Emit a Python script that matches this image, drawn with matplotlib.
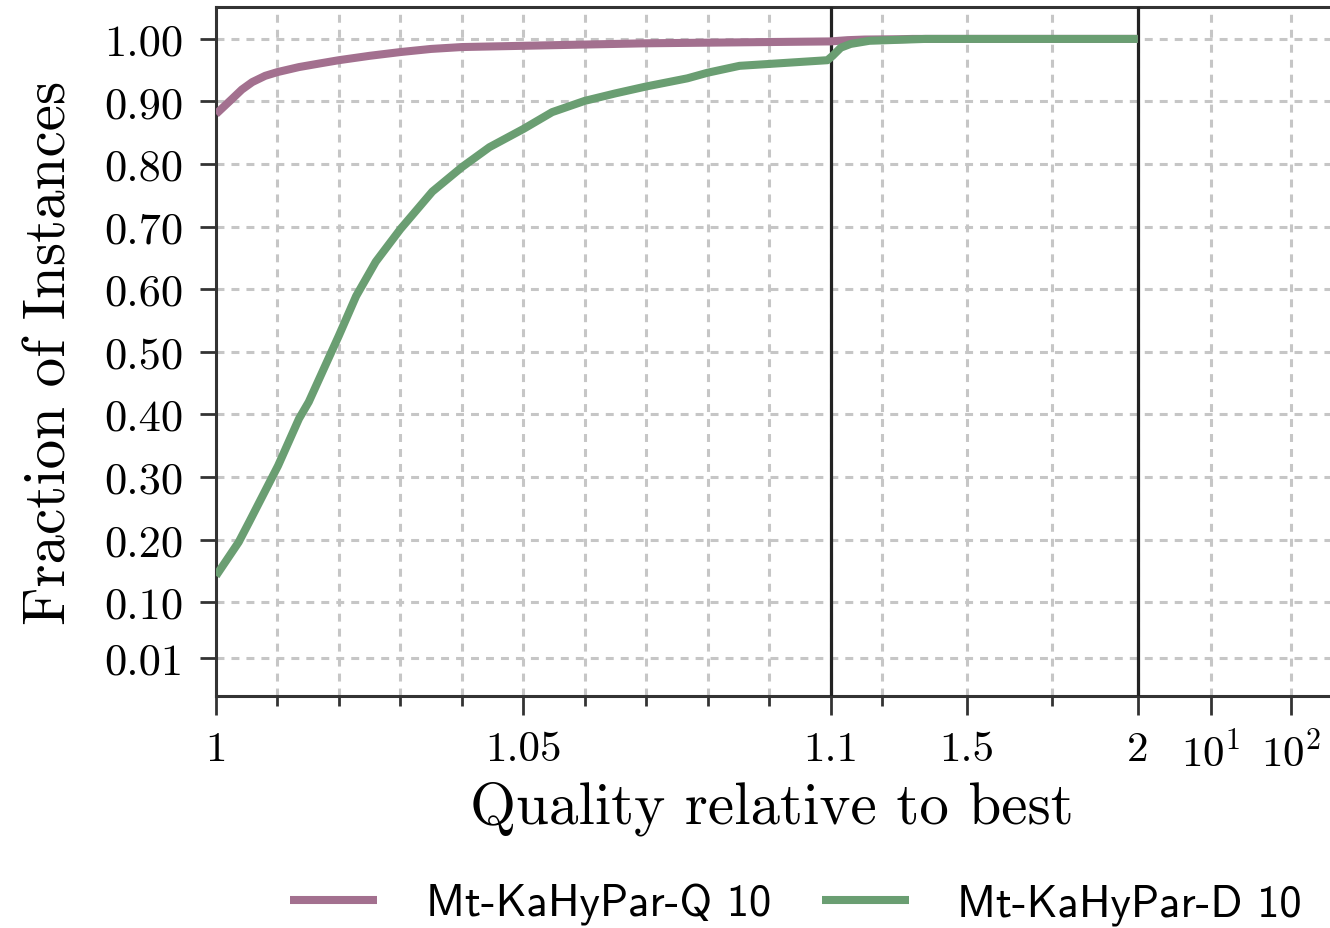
import numpy as np
import matplotlib
matplotlib.use("Agg")
import matplotlib.pyplot as plt
from matplotlib.ticker import FixedLocator, FixedFormatter

# ---- data -------------------------------------------------------------
quality_q = [1.000, 1.0013, 1.0026, 1.0042, 1.0059, 1.0080, 1.010, 1.0135,
             1.017, 1.020, 1.025, 1.030, 1.035, 1.040, 1.050, 1.060,
             1.070, 1.080, 1.090, 1.100, 1.150, 1.200, 1.300, 1.340, 2.000]
fraction_q = [0.880, 0.892, 0.904, 0.919, 0.931, 0.941, 0.947, 0.955,
              0.961, 0.966, 0.973, 0.979, 0.984, 0.987, 0.989, 0.991,
              0.993, 0.994, 0.995, 0.996, 0.998, 0.999, 0.9995, 1.000, 1.000]

quality_d = [1.000, 1.0037, 1.0054, 1.0101, 1.0135, 1.0151, 1.0175, 1.020,
             1.0228, 1.026, 1.030, 1.0352, 1.040, 1.0445, 1.050, 1.0547,
             1.060, 1.065, 1.070, 1.0767, 1.080, 1.0852, 1.090, 1.0995,
             1.106, 1.130, 1.159, 1.214, 1.378, 2.000]
fraction_d = [0.142, 0.196, 0.228, 0.318, 0.393, 0.420, 0.472, 0.526,
              0.589, 0.644, 0.696, 0.756, 0.795, 0.827, 0.856, 0.883,
              0.901, 0.913, 0.924, 0.937, 0.946, 0.957, 0.960, 0.966,
              0.973, 0.986, 0.992, 0.997, 1.000, 1.000]

series_labels = ["Mt-KaHyPar-Q 10", "Mt-KaHyPar-D 10"]
series_colors = ["#a3708f", "#6a9e72"]

x_major = [1.0, 1.05, 1.1, 1.5, 2.0, 10.0, 100.0]
x_major_labels = ["1", "1.05", "1.1", "1.5", "2", r"$10^1$", r"$10^2$"]
x_minor = [1.01, 1.02, 1.03, 1.04, 1.06, 1.07, 1.08, 1.09, 1.25, 1.75]
y_ticks = [0.01, 0.10, 0.20, 0.30, 0.40, 0.50, 0.60, 0.70, 0.80, 0.90, 1.00]
y_tick_labels = ["0.01", "0.10", "0.20", "0.30", "0.40", "0.50", "0.60",
                 "0.70", "0.80", "0.90", "1.00"]
separators = [1.1, 2.0]

# ---- piecewise quality scale: linear [1,1.1], linear [1.1,2], log beyond
LOG_KNOTS = np.log10([2.0, 10.0, 100.0, 1000.0])
POS_KNOTS = np.array([3.0, 3.238, 3.498, 3.759])
TAIL_SLOPE = (POS_KNOTS[-1] - POS_KNOTS[-2]) / (LOG_KNOTS[-1] - LOG_KNOTS[-2])


def forward(q):
    q = np.asarray(q, dtype=float)
    seg1 = (q - 1.0) / 0.1 * 2.0
    seg2 = 2.0 + (q - 1.1) / 0.9
    lq = np.log10(np.clip(q, 1e-9, None))
    seg3 = np.interp(lq, LOG_KNOTS, POS_KNOTS, left=3.0)
    seg3 = np.where(lq > LOG_KNOTS[-1],
                    POS_KNOTS[-1] + (lq - LOG_KNOTS[-1]) * TAIL_SLOPE, seg3)
    return np.where(q <= 1.1, seg1, np.where(q <= 2.0, seg2, seg3))


def inverse(p):
    p = np.asarray(p, dtype=float)
    seg1 = 1.0 + p * 0.05
    seg2 = 1.1 + (p - 2.0) * 0.9
    lq = np.interp(p, POS_KNOTS, LOG_KNOTS)
    lq = np.where(p > POS_KNOTS[-1],
                  LOG_KNOTS[-1] + (p - POS_KNOTS[-1]) / TAIL_SLOPE, lq)
    seg3 = 10.0 ** lq
    return np.where(p <= 2.0, seg1, np.where(p <= 3.0, seg2, seg3))


# ---- style ------------------------------------------------------------
plt.rcParams["font.family"] = ["cmr10", "DejaVu Serif"]
plt.rcParams["mathtext.fontset"] = "cm"
plt.rcParams["axes.formatter.use_mathtext"] = True

W, H = 1330, 929
fig = plt.figure(figsize=(W / 100, H / 100), dpi=100)
ax = fig.add_axes([216 / W, 1 - 697 / H, (1331 - 216) / W, (697 - 8) / H])

ax.set_xscale("function", functions=(forward, inverse))
ax.set_xlim(1.0, float(inverse((1331 - 217) / 307.0)))
ax.set_ylim(-0.05, 1.051)

grid_kw = dict(color="#c6c6c6", linewidth=2.2, linestyle=(0, (2.6, 2.3)),
               zorder=0)
ax.xaxis.set_major_locator(FixedLocator(x_major))
ax.xaxis.set_major_formatter(FixedFormatter(x_major_labels))
ax.xaxis.set_minor_locator(FixedLocator(x_minor))
ax.yaxis.set_major_locator(FixedLocator(y_ticks))
ax.yaxis.set_major_formatter(FixedFormatter(y_tick_labels))
ax.grid(True, which="both", axis="x", **grid_kw)
ax.grid(True, which="major", axis="y", **grid_kw)
ax.set_axisbelow(True)

for q in separators:
    ax.axvline(q, color="#222222", linewidth=2.3, zorder=3)

ax.plot(quality_q, fraction_q, color=series_colors[0], linewidth=5.8,
        solid_capstyle="butt", solid_joinstyle="round",
        label=series_labels[0], zorder=4)
ax.plot(quality_d, fraction_d, color=series_colors[1], linewidth=5.8,
        solid_capstyle="butt", solid_joinstyle="round",
        label=series_labels[1], zorder=5)

for side in ["left", "bottom", "top", "right"]:
    ax.spines[side].set_color("#333333")
    ax.spines[side].set_linewidth(2.2)

ax.tick_params(axis="x", which="major", length=14, width=2.0,
               color="#333333", labelsize=31, pad=11)
ax.tick_params(axis="x", which="minor", length=7, width=2.0,
               color="#333333")
ax.tick_params(axis="y", which="major", length=11.5, width=2.0,
               color="#333333", labelsize=32, pad=12)

ax.set_xlabel("Quality relative to best", fontsize=42.5)
ax.set_ylabel("Fraction of Instances", fontsize=42.5, labelpad=19)
ax.xaxis.set_label_coords((772 - 216) / (1331 - 216), -0.122)

fig.legend(loc="center", bbox_to_anchor=(796 / W, 1 - 905 / H),
           ncol=2, frameon=False,
           prop={"family": "cmss10", "size": 32},
           handlelength=1.95, handletextpad=1.1, columnspacing=1.15)

fig.savefig("out.png", dpi=100)
